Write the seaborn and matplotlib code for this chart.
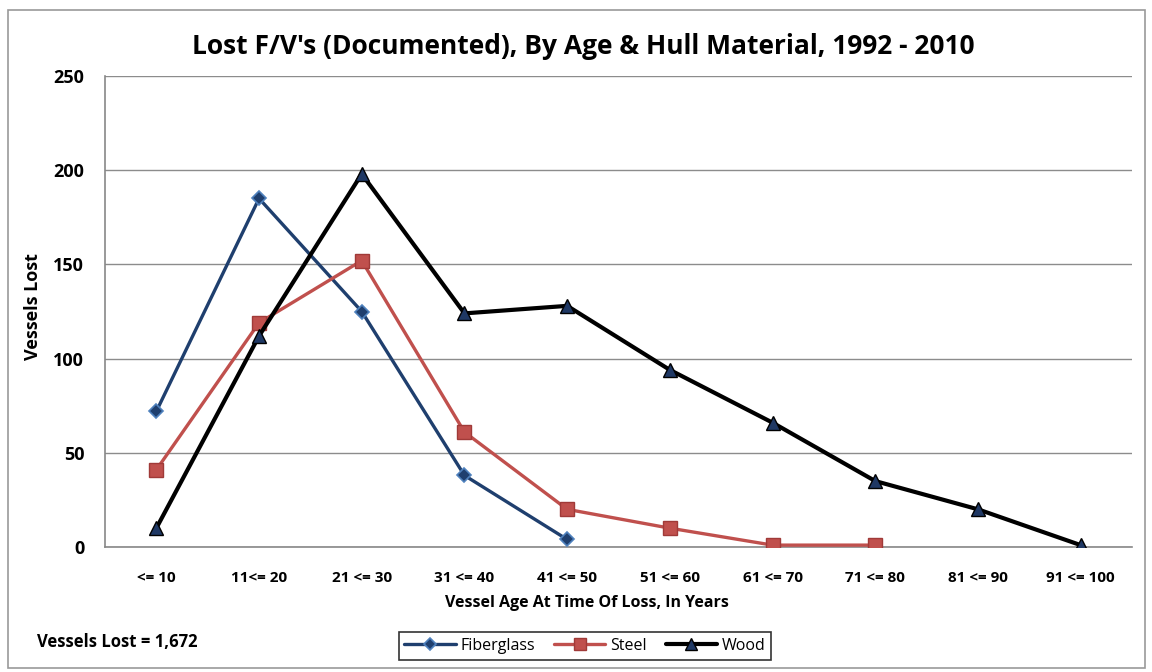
import matplotlib
matplotlib.use("Agg")
import matplotlib.pyplot as plt
import seaborn as sns
import numpy as np
import pandas as pd
from matplotlib.patches import Rectangle
from matplotlib.lines import Line2D

categories = ["<= 10", "11<= 20", "21 <= 30", "31 <= 40", "41 <= 50",
              "51 <= 60", "61 <= 70", "71 <= 80", "81 <= 90", "91 <= 100"]
fiberglass = [72, 185, 125, 38, 4]
steel = [41, 119, 152, 61, 20, 10, 1, 1]
wood = [10, 112, 198, 124, 128, 94, 66, 35, 20, 1]
y_ticks = [0, 50, 100, 150, 200, 250]
title = "Lost F/V's (Documented), By Age & Hull Material, 1992 - 2010"
x_label = "Vessel Age At Time Of Loss, In Years"
y_label = "Vessels Lost"
note = "Vessels Lost = 1,672"

rows = []
for name, vals in [("Fiberglass", fiberglass), ("Steel", steel), ("Wood", wood)]:
    for i, v in enumerate(vals):
        rows.append({"pos": i, "category": categories[i], "Material": name, "Lost": v})
df = pd.DataFrame(rows)

sns.set_theme(style="white")
plt.rcParams["font.family"] = ["Open Sans", "DejaVu Sans"]
plt.rcParams["text.color"] = "black"
plt.rcParams["axes.labelcolor"] = "black"
plt.rcParams["xtick.color"] = "black"
plt.rcParams["ytick.color"] = "black"

fig = plt.figure(figsize=(11.52, 6.72), dpi=100)
ax = fig.add_axes([105/1152, 1-547/672, 1027/1152, (547-76)/672])

styles = {
    "Fiberglass": dict(color="#1F3F6E", marker="D", ms=7.5, mfc="#1F3F6E", mec="#4F81BD", lw=2.4, mew=1.2),
    "Steel": dict(color="#C0504D", marker="s", ms=9.5, mfc="#C0504D", mec="#A03A38", lw=2.4, mew=1.0),
    "Wood": dict(color="#000000", marker="^", ms=10, mfc="#1F3864", mec="#000000", lw=3.0, mew=1.0),
}
handles = []
for name in ["Fiberglass", "Steel", "Wood"]:
    s = styles[name]
    sub = df[df["Material"] == name]
    sns.lineplot(data=sub, x="pos", y="Lost", ax=ax, color=s["color"], lw=s["lw"],
                 marker=s["marker"], markersize=s["ms"], markerfacecolor=s["mfc"],
                 markeredgecolor=s["mec"], markeredgewidth=s["mew"], legend=False, zorder=3)
    handles.append(Line2D([0], [0], color=s["color"], lw=s["lw"], marker=s["marker"],
                          markersize=s["ms"] * 0.85, markerfacecolor=s["mfc"],
                          markeredgecolor=s["mec"], markeredgewidth=s["mew"], label=name))

ax.set_xlim(-0.5, len(categories) - 0.5)
ax.set_ylim(0, 250)
ax.set_yticks(y_ticks)
ax.set_yticklabels([str(t) for t in y_ticks])
ax.set_xticks(np.arange(len(categories) + 1) - 0.5)
ax.set_xticklabels([])
ax.set_xticks(np.arange(len(categories)), minor=True)
ax.set_xticklabels(categories, minor=True)
ax.tick_params(axis="x", which="major", direction="out", length=5, color="#888888", width=1)
ax.tick_params(axis="x", which="minor", length=0, pad=17, labelsize=11)
ax.tick_params(axis="y", direction="out", length=5, color="#888888", width=1, pad=10, labelsize=13)
for lab in ax.get_yticklabels() + ax.get_xticklabels(minor=True):
    lab.set_fontweight("bold")

ax.yaxis.grid(True, color="#8C8C8C", lw=1)
ax.xaxis.grid(False)
for sp in ["top", "right"]:
    ax.spines[sp].set_visible(False)
for sp in ["left", "bottom"]:
    ax.spines[sp].set_color("#888888")
    ax.spines[sp].set_linewidth(1.2)

ax.set_xlabel(x_label, fontweight="bold", fontsize=11.5)
ax.xaxis.set_label_coords((587-105)/1027, (547-603)/471)
ax.xaxis.label.set_va("center")
ax.set_ylabel(y_label, fontweight="bold", fontsize=13)
ax.yaxis.set_label_coords((33-105)/1027, (547-307)/471)
ax.yaxis.label.set_va("center")
fig.text(583/1152, 1-46/672, title, ha="center", va="center", fontweight="bold", fontsize=19)
fig.text(37/1152, 1-642/672, note, ha="left", va="center", fontweight="bold", fontsize=12)

leg = fig.legend(handles=handles, loc="center", bbox_to_anchor=(585/1152, 1-646/672), ncol=3,
                 frameon=True, fancybox=False, fontsize=11.5, handlelength=3.2,
                 columnspacing=1.2, handletextpad=0.3, borderpad=0.35)
leg.get_frame().set_edgecolor("black")
leg.get_frame().set_linewidth(1.2)

fig.patches.append(Rectangle((8/1152, 1-668/672), 1137/1152, 658/672, transform=fig.transFigure,
                             fill=False, edgecolor="#999999", lw=1.2))

fig.savefig("out.png", dpi=100, facecolor="white")
